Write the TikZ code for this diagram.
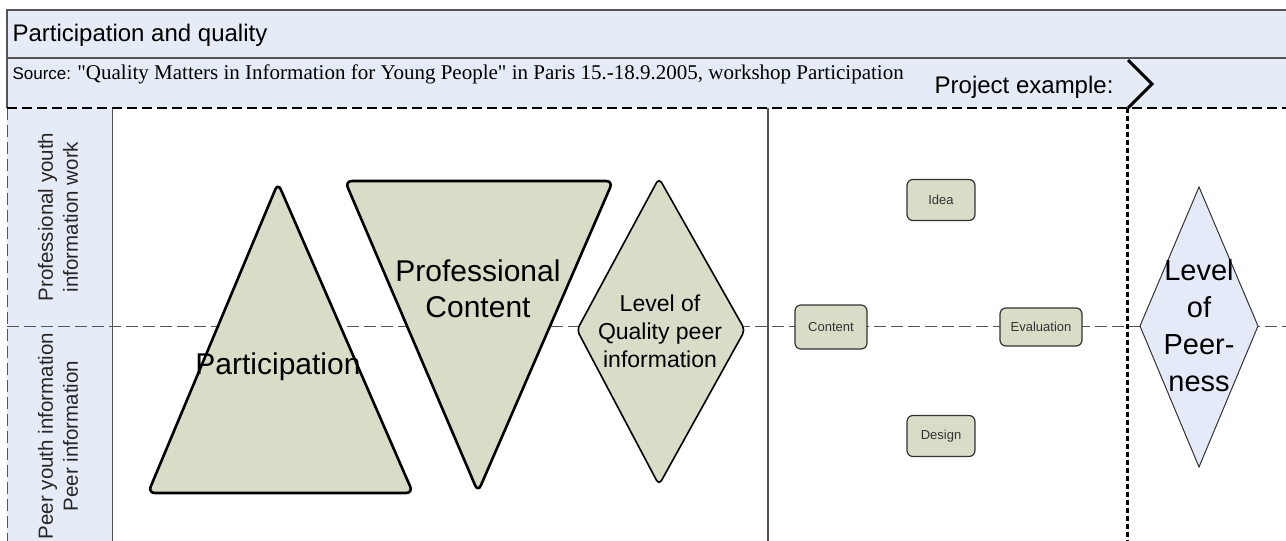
\documentclass[tikz,border=0pt]{standalone}
\usepackage{fontspec}
\setmainfont{Liberation Sans}
\newfontfamily\timesfont{Liberation Serif}
\usepackage{tikz}
\usetikzlibrary{positioning,calc}

\definecolor{bandblue}{RGB}{230,236,247}
\definecolor{olivefill}{RGB}{217,220,199}
\definecolor{peerblue}{RGB}{228,234,248}
\definecolor{lanegray}{RGB}{85,85,85}

\tikzset{
  bigshape/.style={draw=black, line width=2.6pt, fill=olivefill, rounded corners=7pt, line join=round},
  stepbox/.style={draw=black!80, line width=1.2pt, fill=olivefill, rounded corners=6pt,
    minimum width=68pt, minimum height=41pt, inner sep=2pt,
    font=\fontsize{13}{15}\selectfont, text=black!80},
  lanelabel/.style={rotate=90, align=center, font=\fontsize{20.5}{25}\selectfont, text=black!85},
  lanerule/.style={lanegray, line width=1pt, dash pattern=on 12pt off 5pt},
}

\begin{document}
\begin{tikzpicture}[x=1pt,y=-1pt]
    \useasboundingbox (0,0) rectangle (1286,541);

    % Header bands
    \fill[bandblue] (7,10) rectangle (1286,108);
    \draw[lanegray, line width=1.8pt] (1286,10) -- (7,10) -- (7,108);
    \draw[lanegray, line width=1.5pt] (7,58) -- (1286,58);

    % Lane label column
    \fill[bandblue] (7,108) rectangle (112,541);
    \draw[lanegray, line width=1pt] (112,108) -- (112,541);
    \draw[lanerule] (7,108) -- (7,541);

    % Lanes and columns
    \draw[lanerule] (7,326) -- (1286,326);
    \draw[black, line width=2pt, dash pattern=on 10pt off 5pt] (7,108) -- (1286,108);
    \draw[lanegray, line width=1.2pt] (768,108) -- (768,541);
    \draw[black, line width=3pt, dash pattern=on 5pt off 3pt] (1127,108) -- (1127,541);

    % Header texts
    \node[anchor=west, font=\fontsize{24}{26}\selectfont] (title) at (9,35) {Participation and quality};
    \node[anchor=west, font=\fontsize{17}{18}\selectfont] (source) at (9,74)
        {Source: {\timesfont\fontsize{21}{22}\selectfont "Quality Matters in Information for Young People" in Paris 15.-18.9.2005, workshop Participation}};
    \node[anchor=east, font=\fontsize{24}{26}\selectfont] (project) at (1117,87) {Project example:};
    \draw[line width=3pt, line join=miter] (1128,60) -- (1152,84) -- (1128,108);

    % Lane labels
    \node[lanelabel] (proflane) at (58,217) {Professional youth\\information work};
    \node[lanelabel] (peerlane) at (58,436) {Peer youth information\\Peer information};

    % Participation
    \draw[bigshape] (278,183) -- (413,493) -- (148,493) -- cycle;
    \node[font=\fontsize{30}{34}\selectfont] (participation) at (278,367) {Participation};

    % Professional content
    \draw[bigshape] (345,181) -- (613,181) -- (478,492) -- cycle;
    \node[align=center, font=\fontsize{30}{36}\selectfont] (profcontent) at (478,289) {Professional\\Content};

    % Level of quality
    \draw[black, line width=1.6pt, fill=olivefill, rounded corners=5pt, line join=round]
        (659,178) -- (745,330) -- (659,485) -- (577,330) -- cycle;
    \node[align=center, font=\fontsize{23}{28}\selectfont] (quality) at (660,331) {Level of\\Quality peer\\information};

    % Project example steps
    \node[stepbox] (idea) at (941,200) {Idea};
    \node[stepbox, minimum width=72pt, minimum height=44pt] (content) at (831,327) {Content};
    \node[stepbox, minimum width=82pt, minimum height=38pt] (evaluation) at (1041,327) {Evaluation};
    \node[stepbox] (design) at (941,436) {Design};

    % Level of peerness
    \draw[black!80, line width=1pt, fill=peerblue] (1199,187) -- (1258,326) -- (1199,467) -- (1140,326) -- cycle;
    \node[align=center, font=\fontsize{29}{37}\selectfont] (peerness) at (1199,326) {Level\\of\\Peer-\\ness};
\end{tikzpicture}
\end{document}
